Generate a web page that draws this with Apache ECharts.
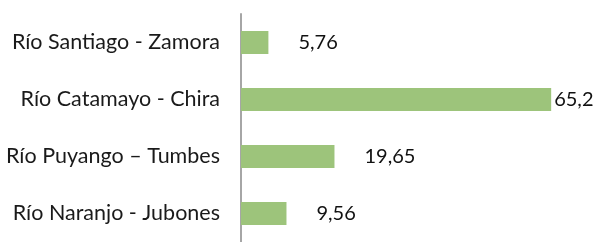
<!DOCTYPE html>
<html>
<head>
<meta charset="utf-8">
<script src="https://cdn.jsdelivr.net/npm/echarts@6/dist/echarts.min.js"></script>
<style>
  html, body { margin: 0; padding: 0; background: #fff; }
  #chart { width: 599px; height: 242px; }
</style>
</head>
<body>
<div id="chart"></div>
<script>
const categories = ['Río Santiago - Zamora', 'Río Catamayo - Chira', 'Río Puyango – Tumbes', 'Río Naranjo - Jubones']
const values = [5.76, 65.2, 19.65, 9.56]
const valueLabels = ['5,76', '65,2', '19,65', '9,56']

const maxValue = Math.max(...values)

const myChart = echarts.init(document.getElementById('chart'))
const options = {
  animation: false,
  grid: {
    left: 241,
    top: 14,
    width: 333,
    height: 233
  },
  xAxis: {
    type: 'value',
    min: 0,
    max: 70,
    show: false
  },
  yAxis: {
    type: 'category',
    data: categories,
    inverse: true,
    axisLine: {
      show: true,
      lineStyle: { color: '#A6A6A6', width: 2 }
    },
    axisTick: { show: false },
    axisLabel: {
      margin: 21,
      color: '#1a1a1a',
      fontFamily: 'Lato',
      fontSize: 21.5
    }
  },
  series: [
    {
      type: 'bar',
      barWidth: 23,
      itemStyle: { color: '#9DC47B' },
      data: values.map((v, i) => ({
        value: v,
        label: {
          show: true,
          position: 'right',
          // la etiqueta mayor queda pegada a la barra
          distance: v === maxValue ? 3 : 30,
          formatter: valueLabels[i],
          color: '#111',
          fontFamily: 'Lato',
          fontSize: 20
        }
      }))
    }
  ]
}
myChart.setOption(options, true)
window.addEventListener('resize', () => {
  myChart.resize()
})
</script>
</body>
</html>
